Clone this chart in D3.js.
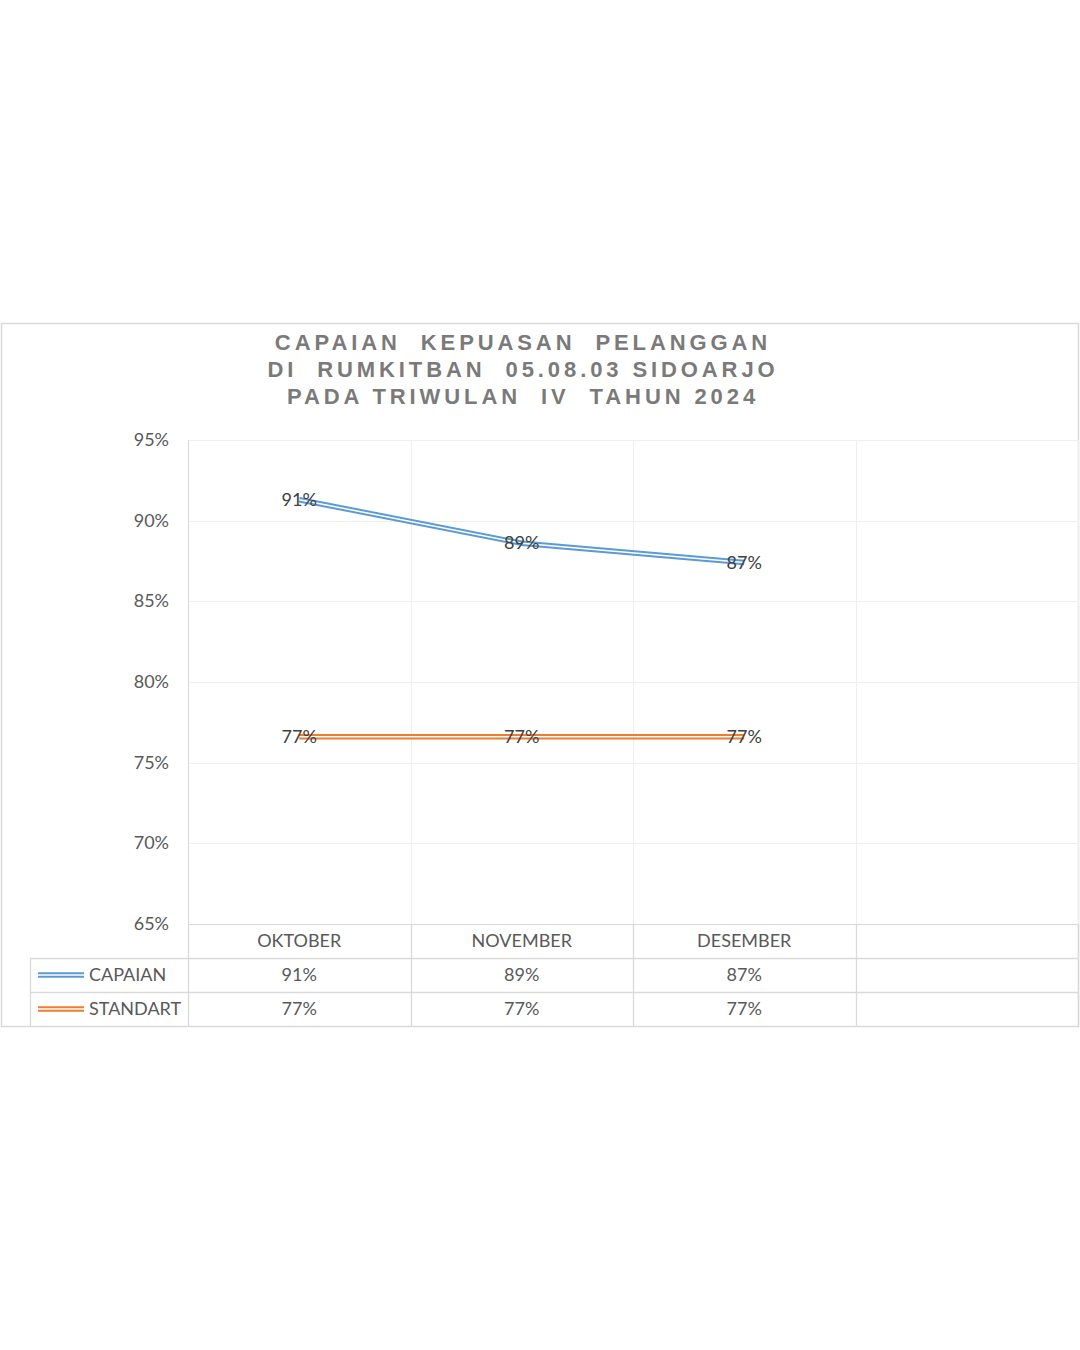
<!DOCTYPE html>
<html>
<head>
<meta charset="utf-8">
<title>Capaian Kepuasan Pelanggan</title>
<style>
body { margin: 0; background: #fff; }
text { font-family: 'Lato', 'Liberation Sans', sans-serif; }
</style>
</head>
<body>
<script src="https://cdn.jsdelivr.net/npm/d3@7"></script>
<script>
// data
const titleLines = ["CAPAIAN  KEPUASAN  PELANGGAN", "DI  RUMKITBAN  05.08.03 SIDOARJO", "PADA TRIWULAN  IV  TAHUN 2024"];
const categories = ["OKTOBER", "NOVEMBER", "DESEMBER"];
const capaian = [0.913, 0.886, 0.874];
const standart = [0.766, 0.766, 0.766];
const yTicks = [0.65, 0.70, 0.75, 0.80, 0.85, 0.90, 0.95];
const seriesNames = ["CAPAIAN", "STANDART"];
const seriesColors = ["#5b9bd5", "#ed7d31"];

const W = 1080, H = 1350;
const svg = d3.select("body").append("svg")
    .attr("width", W).attr("height", H);

// outer chart border
svg.append("rect")
    .attr("x", 1.5).attr("y", 323.5)
    .attr("width", 1077).attr("height", 703)
    .attr("fill", "#fff").attr("stroke", "#d9d9d9").attr("stroke-width", 1.5);

// title
svg.selectAll(".title")
    .data(titleLines)
  .enter().append("text")
    .attr("x", 523)
    .attr("y", (d, i) => 350 + i * 27)
    .attr("text-anchor", "middle")
    .attr("xml:space", "preserve")
    .style("white-space", "pre")
    .style("font-family", "'Liberation Sans', Arial, sans-serif")
    .style("font-weight", "bold")
    .style("font-size", "22px")
    .style("letter-spacing", "3.9px")
    .attr("fill", "#7a7a7a")
    .text(d => d);

// plot area
const plotLeft = 188, plotRight = 1078, plotTop = 440, plotBottom = 924;
const columns = categories.concat([""]);  // empty fourth slot like the original

const x = d3.scaleBand()
    .domain(d3.range(columns.length))
    .range([plotLeft, plotRight])
    .padding(0);

const y = d3.scaleLinear()
    .domain([0.65, 0.95])
    .range([plotBottom, plotTop]);

const pct = d3.format(".0%");
const fs = "18px";

// horizontal gridlines
svg.selectAll(".hgrid")
    .data(yTicks)
  .enter().append("line")
    .attr("x1", plotLeft).attr("x2", plotRight)
    .attr("y1", d => Math.round(y(d)) + 0.5)
    .attr("y2", d => Math.round(y(d)) + 0.5)
    .attr("stroke", d => d === 0.65 ? "#d9d9d9" : "#efefef")
    .attr("stroke-width", 1);

// y tick labels
svg.selectAll(".ytick")
    .data(yTicks)
  .enter().append("text")
    .attr("x", 169)
    .attr("y", d => y(d) + 6)
    .attr("text-anchor", "end")
    .style("font-size", fs)
    .attr("fill", "#595959")
    .text(pct);

// table rows geometry
const rowH = 34;
const tableTop = plotBottom;
const tableBottom = tableTop + rowH * 3;

// vertical gridlines (light in plot, darker in table)
const vEdges = d3.range(columns.length + 1).map(i =>
    i < columns.length ? x(i) : x(columns.length - 1) + x.bandwidth());

svg.selectAll(".vgrid")
    .data(vEdges)
  .enter().append("line")
    .attr("x1", d => Math.round(d) + 0.5).attr("x2", d => Math.round(d) + 0.5)
    .attr("y1", plotTop).attr("y2", plotBottom)
    .attr("stroke", (d, i) => i === 0 ? "#d9d9d9" : "#efefef");

svg.selectAll(".vtable")
    .data(vEdges)
  .enter().append("line")
    .attr("x1", d => Math.round(d) + 0.5).attr("x2", d => Math.round(d) + 0.5)
    .attr("y1", tableTop).attr("y2", tableBottom)
    .attr("stroke", "#d9d9d9").attr("stroke-width", 1.3);

// table horizontal lines
const legendLeft = 30;
[1, 2].forEach(r => {
  svg.append("line")
      .attr("x1", legendLeft).attr("x2", plotRight)
      .attr("y1", tableTop + r * rowH + 0.5).attr("y2", tableTop + r * rowH + 0.5)
      .attr("stroke", "#d9d9d9").attr("stroke-width", 1.3);
});
svg.append("line")
    .attr("x1", legendLeft + 0.5).attr("x2", legendLeft + 0.5)
    .attr("y1", tableTop + rowH).attr("y2", tableBottom)
    .attr("stroke", "#d9d9d9").attr("stroke-width", 1.3);

// category labels
svg.selectAll(".cat")
    .data(categories)
  .enter().append("text")
    .attr("x", (d, i) => x(i) + x.bandwidth() / 2)
    .attr("y", tableTop + rowH / 2 + 6)
    .attr("text-anchor", "middle")
    .style("font-size", fs)
    .attr("fill", "#595959")
    .text(d => d);

// double line helper
function doubleLine(g, data, color) {
  const line = d3.line()
      .x((d, i) => x(i) + x.bandwidth() / 2)
      .y(d => y(d));
  g.append("path").datum(data)
      .attr("d", line).attr("fill", "none")
      .attr("stroke", color).attr("stroke-width", 5.5);
  g.append("path").datum(data)
      .attr("d", line).attr("fill", "none")
      .attr("stroke", "#fff").attr("stroke-width", 1.5);
}

const seriesData = [capaian, standart];

seriesData.forEach((vals, s) => {
  const g = svg.append("g");
  doubleLine(g, vals, seriesColors[s]);

  // data labels centred on points
  g.selectAll(".lbl")
      .data(vals)
    .enter().append("text")
      .attr("x", (d, i) => x(i) + x.bandwidth() / 2)
      .attr("y", d => y(d) + 6)
      .attr("text-anchor", "middle")
      .style("font-size", fs)
      .attr("fill", "#404040")
      .text(pct);

  // table row
  const rowY = tableTop + rowH * (s + 1);
  const key = svg.append("g");
  key.append("line")
      .attr("x1", 38).attr("x2", 84)
      .attr("y1", rowY + rowH / 2).attr("y2", rowY + rowH / 2)
      .attr("stroke", seriesColors[s]).attr("stroke-width", 5.5);
  key.append("line")
      .attr("x1", 38).attr("x2", 84)
      .attr("y1", rowY + rowH / 2).attr("y2", rowY + rowH / 2)
      .attr("stroke", "#fff").attr("stroke-width", 1.5);
  svg.append("text")
      .attr("x", 89).attr("y", rowY + rowH / 2 + 6)
      .style("font-size", fs)
      .attr("fill", "#595959")
      .text(seriesNames[s]);

  svg.selectAll(".cell" + s)
      .data(vals)
    .enter().append("text")
      .attr("x", (d, i) => x(i) + x.bandwidth() / 2)
      .attr("y", rowY + rowH / 2 + 6)
      .attr("text-anchor", "middle")
      .style("font-size", fs)
      .attr("fill", "#595959")
      .text(pct);
});
</script>
</body>
</html>
